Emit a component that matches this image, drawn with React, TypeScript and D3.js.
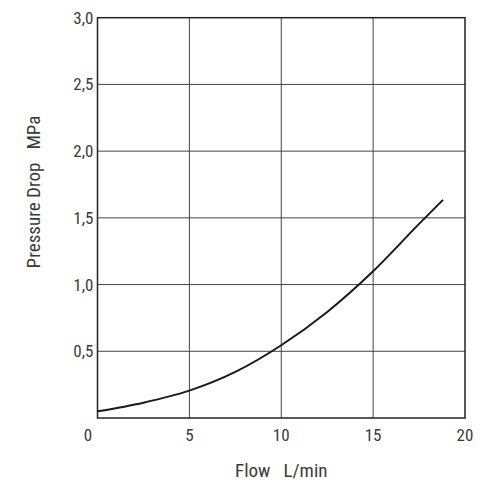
import React from 'react';
import * as d3 from 'd3';

const flow = [0, 2.5, 5, 7.5, 10, 12.5, 15, 17.5, 18.8];
const pressure = [0.05, 0.115, 0.205, 0.345, 0.545, 0.795, 1.1, 1.455, 1.635];
const xTicks = [0, 5, 10, 15, 20];
const yTicks = [0.5, 1.0, 1.5, 2.0, 2.5, 3.0];

const FONT = "'Liberation Sans Narrow', 'Roboto Condensed', 'DejaVu Sans Condensed', sans-serif";

const App: React.FC = () => {
  const width = 481;
  const height = 481;
  const margin = { top: 17.7, right: 16, bottom: 63, left: 97.5 };
  const innerW = width - margin.left - margin.right;
  const innerH = height - margin.top - margin.bottom;

  const x = d3.scaleLinear().domain([0, 20]).range([0, innerW]);
  const y = d3.scaleLinear().domain([0, 3]).range([innerH, 0]);

  const points = flow.map((f, i) => [f, pressure[i]] as [number, number]);
  const line = d3.line<[number, number]>()
    .x(d => x(d[0]))
    .y(d => y(d[1]))
    .curve(d3.curveMonotoneX);

  const fmt = (v: number) => v.toFixed(1).replace('.', ',');

  return (
    <svg width={width} height={height} style={{ position: 'absolute', left: 0, top: 0, background: '#fff' }}>
      <g transform={`translate(${margin.left},${margin.top})`}>
        {/* grid */}
        {xTicks.slice(1, -1).map(t => (
          <line key={'gx' + t} x1={x(t)} x2={x(t)} y1={0} y2={innerH} stroke="#444" strokeWidth={1} />
        ))}
        {yTicks.slice(0, -1).map(t => (
          <line key={'gy' + t} x1={0} x2={innerW} y1={y(t)} y2={y(t)} stroke="#444" strokeWidth={1} />
        ))}
        <rect x={0} y={0} width={innerW} height={innerH} fill="none" stroke="#222" strokeWidth={1.5} />

        {/* curve */}
        <path d={line(points) || ''} fill="none" stroke="#1a1a1a" strokeWidth={2} />

        {/* y ticks */}
        {yTicks.map(t => (
          <text key={'ty' + t} x={-4} y={y(t)} dy="0.35em" textAnchor="end"
            fontFamily={FONT} fontSize={17} fill="#3a3a3a">{fmt(t)}</text>
        ))}
        {/* x ticks */}
        {xTicks.map(t => (
          <text key={'tx' + t} x={t === 0 ? -9.5 : x(t)} y={innerH + 17} dy="0.35em" textAnchor="middle"
            fontFamily={FONT} fontSize={17} fill="#3a3a3a">{t}</text>
        ))}

        {/* axis labels */}
        <text x={innerW / 2} y={innerH + 52} dy="0.35em" textAnchor="middle"
          fontFamily={FONT} fontSize={19} fill="#3a3a3a" style={{ whiteSpace: 'pre' }}>{'Flow   L/min'}</text>
        <text transform={`translate(${-64},${192 - margin.top}) rotate(-90)`} dy="0.35em" textAnchor="middle"
          fontFamily={FONT} fontSize={19} fill="#3a3a3a" style={{ whiteSpace: 'pre' }}>{'Pressure Drop   MPa'}</text>
      </g>
    </svg>
  );
};

export default App;
